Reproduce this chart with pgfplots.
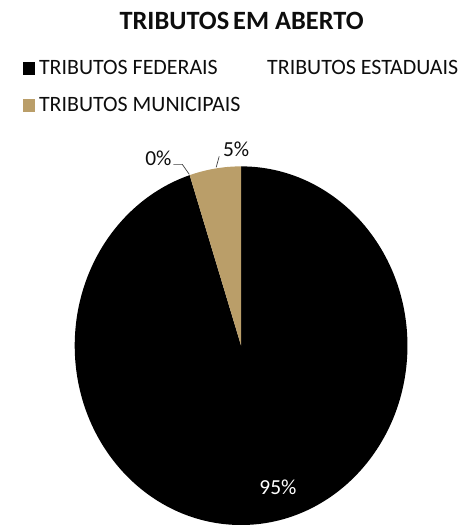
\documentclass[border=0pt]{standalone}
\usepackage{pgfplots}
\usepackage{pgfplotstable}
\pgfplotsset{compat=1.18}
\usepackage{fontspec}
\setmainfont{Carlito}

\definecolor{federal}{HTML}{000000}
\definecolor{municipal}{HTML}{BA9E69}
\definecolor{txt}{HTML}{0D0D0D}

% share of each tax group (percent)
\pgfplotstableread{
grupo valor
federais 95
estaduais 0
municipais 5
}\tributos

\begin{document}
\begin{tikzpicture}
\begin{axis}[
  scale only axis,
  width=459pt, height=525pt,
  xmin=0, xmax=459, ymin=0, ymax=525,
  y dir=reverse,
  hide axis,
  clip=false,
]
  % invisible frame so the page keeps the chart size
  \path (axis cs:0,0) rectangle (axis cs:459,525);

  \pgfplotstablegetelem{0}{valor}\of\tributos \let\vfed\pgfplotsretval
  \pgfplotstablegetelem{1}{valor}\of\tributos \let\vest\pgfplotsretval
  \pgfplotstablegetelem{2}{valor}\of\tributos \let\vmun\pgfplotsretval
  \pgfmathsetmacro{\aA}{90}
  \pgfmathsetmacro{\aB}{90-3.6*\vfed}
  \pgfmathsetmacro{\aC}{\aB-3.6*\vest}
  \pgfmathsetmacro{\aD}{\aC-3.6*\vmun}

  % pie slices, clockwise from 12 o'clock
  \fill[federal] (axis cs:242,347) -- ++(\aA:167pt and 180pt)
     arc[start angle=\aA, end angle=\aB, x radius=167pt, y radius=180pt] -- cycle;
  \fill[municipal] (axis cs:242,347) -- ++(\aC:167pt and 180pt)
     arc[start angle=\aC, end angle=\aD, x radius=167pt, y radius=180pt] -- cycle;

  % data labels
  \node[anchor=base, text=white, font=\fontsize{21.5}{24}\selectfont]
     at (axis cs:279,496) {95\%};
  \node[anchor=base, text=txt, font=\fontsize{21.5}{24}\selectfont]
     at (axis cs:159,166) {0\%};
  \node[anchor=base, text=txt, font=\fontsize{21.5}{24}\selectfont]
     at (axis cs:237,157) {5\%};
  \draw[black!75, line width=0.7pt] (axis cs:174,165) -- (axis cs:183,165) -- (axis cs:190,175);
  \draw[black!75, line width=0.7pt] (axis cs:217,168) -- (axis cs:220,157);

  % title
  \node[anchor=base, text=txt, font=\fontsize{26.5}{30}\bfseries]
     at (axis cs:242.5,30) {TRIBUTOS\hspace{0.15em}EM ABERTO};

  % legend
  \fill[federal] (axis cs:23,62) rectangle (axis cs:35,75);
  \node[anchor=base west, inner sep=0pt, text=txt, font=\fontsize{22}{26}\selectfont]
     at (axis cs:39,75) {TRIBUTOS FEDERAIS};
  \node[anchor=base west, inner sep=0pt, text=txt, font=\fontsize{22}{26}\selectfont]
     at (axis cs:268,75) {TRIBUTOS ESTADUAIS};
  \fill[municipal] (axis cs:23,99) rectangle (axis cs:35,112);
  \node[anchor=base west, inner sep=0pt, text=txt, font=\fontsize{22}{26}\selectfont]
     at (axis cs:39,112) {TRIBUTOS MUNICIPAIS};
\end{axis}
\end{tikzpicture}
\end{document}
